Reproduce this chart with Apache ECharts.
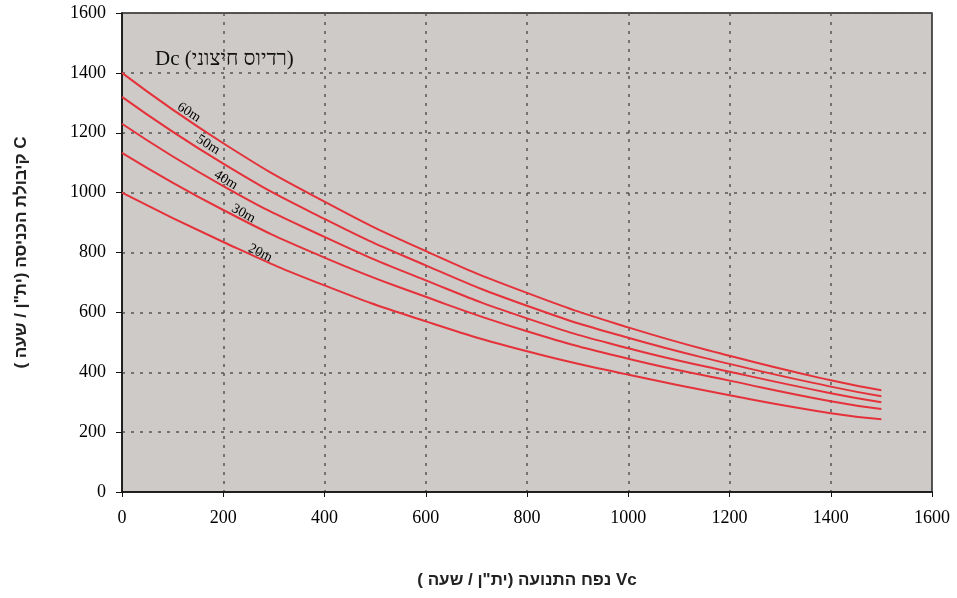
<!DOCTYPE html>
<html>
<head>
<meta charset="utf-8">
<script src="https://cdn.jsdelivr.net/npm/echarts@6/dist/echarts.min.js"></script>
<style>
  html, body { margin: 0; padding: 0; background: #fff; }
  #chart { width: 957px; height: 598px; }
</style>
</head>
<body>
<div id="chart"></div>
<script>
// 数据
var vcValues = [0, 200, 400, 600, 800, 1000, 1200, 1400, 1500];
var seriesNames = ['60m', '50m', '40m', '30m', '20m'];
var c60 = [1400, 1165, 970, 805, 665, 550, 455, 373, 340];
var c50 = [1320, 1097, 912, 757, 622, 515, 428, 352, 320];
var c40 = [1230, 1022, 852, 707, 580, 480, 402, 330, 300];
var c30 = [1133, 942, 783, 652, 537, 445, 372, 303, 277];
var c20 = [1000, 835, 690, 570, 470, 392, 323, 263, 243];
var allValues = [c60, c50, c40, c30, c20];

// 曲线标签位置 (数据坐标)
var labelSpots = [[132, 1268], [170, 1160], [205, 1042], [240, 930], [273, 798]];
var labelRotate = [-33, -32, -31, -29, -27];

var xTitle = '\u202BVc נפח התנועה (ית"ן / שעה )\u202C';
var yTitle = '\u202BC קיבולת הכניסה (ית"ן / שעה )\u202C';
var dcTitle = 'Dc (רדיוס חיצוני)';

var myChart = echarts.init(document.getElementById('chart'));

var series = seriesNames.map(function(name, i) {
    return {
        name: name,
        type: 'line',
        smooth: 0.5,
        symbol: 'none',
        lineStyle: { color: '#e5323a', width: 2 },
        data: vcValues.map(function(v, j) { return [v, allValues[i][j]]; }),
        markPoint: {
            symbol: 'circle',
            symbolSize: 0,
            silent: true,
            data: [{
                coord: labelSpots[i],
                label: {
                    show: true,
                    formatter: name,
                    rotate: labelRotate[i],
                    color: '#000',
                    fontFamily: 'Liberation Serif',
                    fontSize: 14
                }
            }]
        }
    };
});

var option = {
    backgroundColor: '#fff',
    animation: false,
    grid: {
        left: 122,
        right: 25,
        top: 13,
        bottom: 106,
        show: true,
        backgroundColor: '#cdcac7',
        borderColor: '#222',
        borderWidth: 1.5
    },
    xAxis: {
        type: 'value',
        min: 0,
        max: 1600,
        interval: 200,
        name: xTitle,
        nameLocation: 'middle',
        nameGap: 80,
        nameTextStyle: {
            color: '#222',
            fontFamily: 'Liberation Sans',
            fontWeight: 'bold',
            fontSize: 17
        },
        axisLine: { show: true, lineStyle: { color: '#111', width: 1.5 } },
        axisTick: { show: true, length: 5, lineStyle: { color: '#111' } },
        axisLabel: {
            color: '#000',
            fontFamily: 'Liberation Serif',
            fontSize: 18,
            margin: 17,
            formatter: function(v) { return String(v); }
        },
        splitLine: {
            show: true,
            lineStyle: { color: '#555', type: [3, 6], width: 1.5 }
        }
    },
    yAxis: {
        type: 'value',
        min: 0,
        max: 1600,
        interval: 200,
        name: yTitle,
        nameLocation: 'middle',
        nameGap: 92,
        nameRotate: 90,
        nameTextStyle: {
            color: '#222',
            fontFamily: 'Liberation Sans',
            fontWeight: 'bold',
            fontSize: 17
        },
        axisLine: { show: true, lineStyle: { color: '#111', width: 1.5 } },
        axisTick: { show: true, length: 6, lineStyle: { color: '#111' } },
        axisLabel: {
            color: '#000',
            fontFamily: 'Liberation Serif',
            fontSize: 18,
            margin: 16,
            formatter: function(v) { return String(v); }
        },
        splitLine: {
            show: true,
            lineStyle: { color: '#555', type: [3, 6], width: 1.5 }
        }
    },
    graphic: [{
        type: 'text',
        left: 155,
        top: 49,
        style: {
            text: dcTitle,
            fill: '#111',
            font: '21px "Liberation Serif"'
        }
    }],
    series: series
};

myChart.setOption(option);
</script>
</body>
</html>
